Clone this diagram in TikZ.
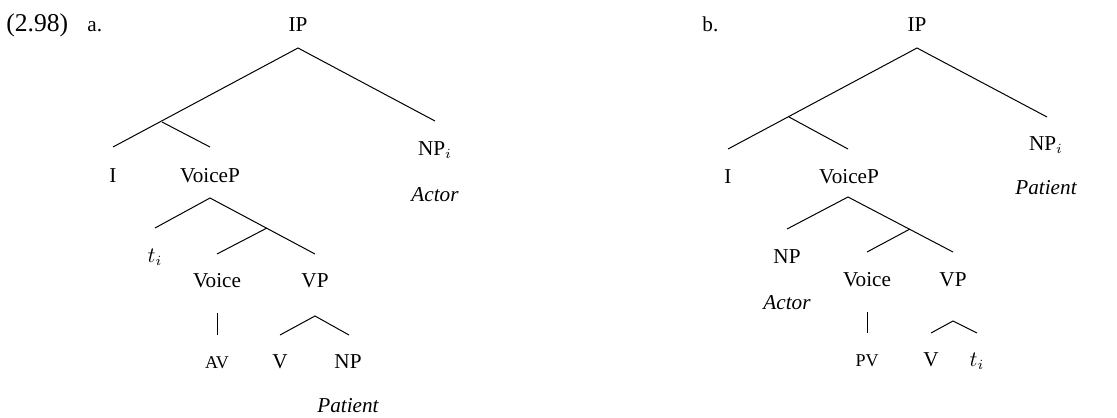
\documentclass[tikz,border=0pt]{standalone}
\usepackage{fontspec}
\setmainfont{Liberation Serif}
\begin{document}
\begin{tikzpicture}[x=0.5pt,y=-0.5pt,
  lab/.style={anchor=base,inner sep=0pt,font=\fontsize{10.6}{12.5}\selectfont},
  role/.style={lab,font=\fontsize{10.6}{12.5}\selectfont\itshape},
  voicelab/.style={lab,font=\fontsize{9}{10.5}\selectfont},
  num/.style={anchor=base west,inner sep=0pt,font=\fontsize{10.6}{12.5}\selectfont},
  bignum/.style={num,font=\fontsize{12.8}{15}\selectfont},
  br/.style={line width=0.5pt}]
\useasboundingbox (0,0) rectangle (1117,417);

% ---------- example number ----------
\node[bignum] (exnum) at (6,32) {(2.98)};
\node[num] (exa) at (87,32) {a.};
\node[num] (exb) at (702,32) {b.};

% ================= tree a =================
\node[lab] (a-ip) at (298,32) {IP};
\node[lab] (a-i) at (113,182) {I};
\node[lab] (a-voicep) at (210,182) {VoiceP};
\node[lab] (a-np) at (435,155) {NP$_i$};
\node[role] (a-actor) at (435,201) {Actor};
\node[lab] (a-t) at (155,262) {$t_i$};
\node[lab] (a-voice) at (217,287) {Voice};
\node[lab] (a-vp) at (315,287) {VP};
\node[voicelab] (a-av) at (217,368) {AV};
\node[lab] (a-v) at (280,368) {V};
\node[lab] (a-vnp) at (348,368) {NP};
\node[role] (a-patient) at (348,412) {Patient};

\coordinate (a-ip-s) at (298,48);
\coordinate (a-ibar) at (162,122);
\coordinate (a-i-n) at (113,147);
\coordinate (a-voicep-n) at (210,147);
\coordinate (a-np-n) at (435,121);
\coordinate (a-voicep-s) at (210,198);
\coordinate (a-t-n) at (155,228);
\coordinate (a-vbar) at (267,228);
\coordinate (a-voice-n) at (217,254);
\coordinate (a-vp-n) at (315,254);
\coordinate (a-voice-s) at (217,313);
\coordinate (a-av-n) at (217,335);
\coordinate (a-vp-s) at (315,316);
\coordinate (a-v-n) at (280,335);
\coordinate (a-vnp-n) at (349,335);

\draw[br] (a-i-n) -- (a-ip-s) -- (a-np-n);
\draw[br] (a-ibar) -- (a-voicep-n);
\draw[br] (a-t-n) -- (a-voicep-s) -- (a-vp-n);
\draw[br] (a-vbar) -- (a-voice-n);
\draw[br] (a-voice-s) -- (a-av-n);
\draw[br] (a-v-n) -- (a-vp-s) -- (a-vnp-n);

% ================= tree b =================
\node[lab] (b-ip) at (917,32) {IP};
\node[lab] (b-i) at (728,183) {I};
\node[lab] (b-voicep) at (849,183) {VoiceP};
\node[lab] (b-np) at (1046,150) {NP$_i$};
\node[role] (b-patient) at (1046,194) {Patient};
\node[lab] (b-subj) at (787,263) {NP};
\node[role] (b-actor) at (787,309) {Actor};
\node[lab] (b-voice) at (867,286) {Voice};
\node[lab] (b-vp) at (953,286) {VP};
\node[voicelab] (b-pv) at (867,366) {PV};
\node[lab] (b-v) at (931,366) {V};
\node[lab] (b-t) at (977,366) {$t_i$};

\coordinate (b-ip-s) at (917,48);
\coordinate (b-ibar) at (789,117);
\coordinate (b-i-n) at (728,149);
\coordinate (b-voicep-n) at (848,149);
\coordinate (b-np-n) at (1047,117);
\coordinate (b-voicep-s) at (848,197);
\coordinate (b-subj-n) at (787,229);
\coordinate (b-vbar) at (910,229);
\coordinate (b-voice-n) at (867,252);
\coordinate (b-vp-n) at (953,252);
\coordinate (b-voice-s) at (867,312);
\coordinate (b-pv-n) at (867,333);
\coordinate (b-vp-s) at (953,321);
\coordinate (b-v-n) at (931,333);
\coordinate (b-t-n) at (977,333);

\draw[br] (b-i-n) -- (b-ip-s) -- (b-np-n);
\draw[br] (b-ibar) -- (b-voicep-n);
\draw[br] (b-subj-n) -- (b-voicep-s) -- (b-vp-n);
\draw[br] (b-vbar) -- (b-voice-n);
\draw[br] (b-voice-s) -- (b-pv-n);
\draw[br] (b-v-n) -- (b-vp-s) -- (b-t-n);
\end{tikzpicture}
\end{document}
